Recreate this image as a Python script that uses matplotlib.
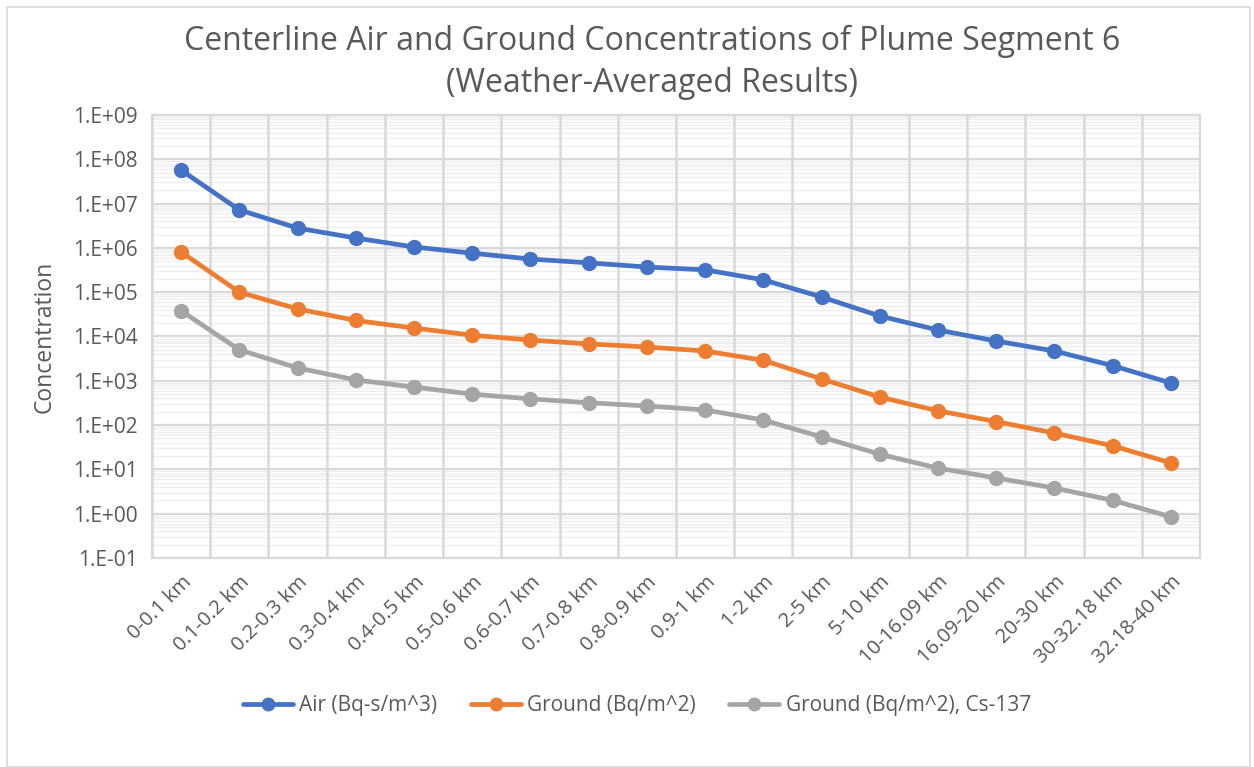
import matplotlib
matplotlib.use("Agg")
import matplotlib.pyplot as plt
import numpy as np
from matplotlib.patches import Rectangle

categories = ["0-0.1 km", "0.1-0.2 km", "0.2-0.3 km", "0.3-0.4 km", "0.4-0.5 km",
              "0.5-0.6 km", "0.6-0.7 km", "0.7-0.8 km", "0.8-0.9 km", "0.9-1 km",
              "1-2 km", "2-5 km", "5-10 km", "10-16.09 km", "16.09-20 km",
              "20-30 km", "30-32.18 km", "32.18-40 km"]
air = [5.7e7, 7.2e6, 2.8e6, 1.67e6, 1.05e6, 7.6e5, 5.6e5, 4.6e5, 3.7e5, 3.2e5,
       1.9e5, 7.8e4, 2.9e4, 1.4e4, 7.9e3, 4.7e3, 2.2e3, 8.9e2]
ground = [8.1e5, 1.0e5, 4.2e4, 2.3e4, 1.55e4, 1.07e4, 8.3e3, 6.8e3, 5.8e3, 4.7e3,
          2.9e3, 1.1e3, 4.3e2, 2.1e2, 1.2e2, 66, 34, 14]
ground_cs = [3.8e4, 5.0e3, 1.95e3, 1.05e3, 7.2e2, 5.0e2, 3.9e2, 3.2e2, 2.7e2, 2.2e2,
             1.3e2, 54, 22, 10.7, 6.4, 3.8, 2.0, 0.85]
series_names = ["Air (Bq-s/m^3)", "Ground (Bq/m^2)", "Ground (Bq/m^2), Cs-137"]
ytick_vals = [1e-1, 1e0, 1e1, 1e2, 1e3, 1e4, 1e5, 1e6, 1e7, 1e8, 1e9]
ytick_labels = ["1.E-01", "1.E+00", "1.E+01", "1.E+02", "1.E+03", "1.E+04",
                "1.E+05", "1.E+06", "1.E+07", "1.E+08", "1.E+09"]

colors = ["#4472C4", "#ED7D31", "#A5A5A5"]
txt = "#595959"
font = ["Open Sans", "DejaVu Sans"]
plt.rcParams['font.family'] = font

fig = plt.figure(figsize=(12.54, 7.67), dpi=100)
fig.patches.append(Rectangle((7/1254, 0.0), 1243/1254, 1 - 7/767, transform=fig.transFigure,
                             fill=False, edgecolor="#d9d9d9", linewidth=1.2))
ax = fig.add_axes([152/1254, 1 - 558/767, (1200 - 152)/1254, (558 - 115)/767])

x = np.arange(len(categories))
for vals, c, name in zip([air, ground, ground_cs], colors, series_names):
    ax.plot(x, vals, color=c, linewidth=3.4, marker="o", markersize=10, label=name,
            solid_capstyle="round", zorder=4)

ax.set_yscale("log")
ax.set_ylim(1e-1, 1e9)
ax.set_xlim(-0.5, len(categories) - 0.5)
ax.set_yticks(ytick_vals)
ax.set_yticklabels(ytick_labels, color=txt, fontsize=15)
ax.yaxis.set_minor_locator(matplotlib.ticker.LogLocator(base=10, subs=np.arange(2, 10)))
ax.yaxis.set_minor_formatter(matplotlib.ticker.NullFormatter())
ax.set_axisbelow(True)
ax.grid(which="minor", axis="y", color="#eeeeee", linewidth=1.0)
ax.grid(which="major", axis="y", color="#d9d9d9", linewidth=1.6)
for b in np.arange(-0.5, len(categories) + 0.5, 1.0):
    ax.axvline(b, color="#d9d9d9", linewidth=1.8, zorder=2.5)
ax.set_xticks(x)
ax.set_xticklabels(categories, rotation=45, ha="right", va="top",
                   rotation_mode="anchor", color=txt, fontsize=14.5)
ax.tick_params(axis="y", which="both", length=0, pad=10)
ax.tick_params(axis="x", which="both", length=0, pad=10)
for s in ax.spines.values():
    s.set_color("#d9d9d9")
    s.set_linewidth(1.6)

ax.set_ylabel("Concentration", color=txt, fontsize=16.5, labelpad=12)
fig.text(652/1254, 1 - 41/767, "Centerline Air and Ground Concentrations of Plume Segment 6",
         ha="center", va="center", fontsize=23, color=txt)
fig.text(652/1254, 1 - 83/767, "(Weather-Averaged Results)",
         ha="center", va="center", fontsize=23, color=txt)

fig.legend(loc="center", bbox_to_anchor=(637/1254, 1 - 706/767), ncol=3, frameon=False,
           fontsize=15, labelcolor=txt, handlelength=2.4, columnspacing=1.6,
           handletextpad=0.3, markerscale=0.9)

fig.savefig("out.png", dpi=100)
